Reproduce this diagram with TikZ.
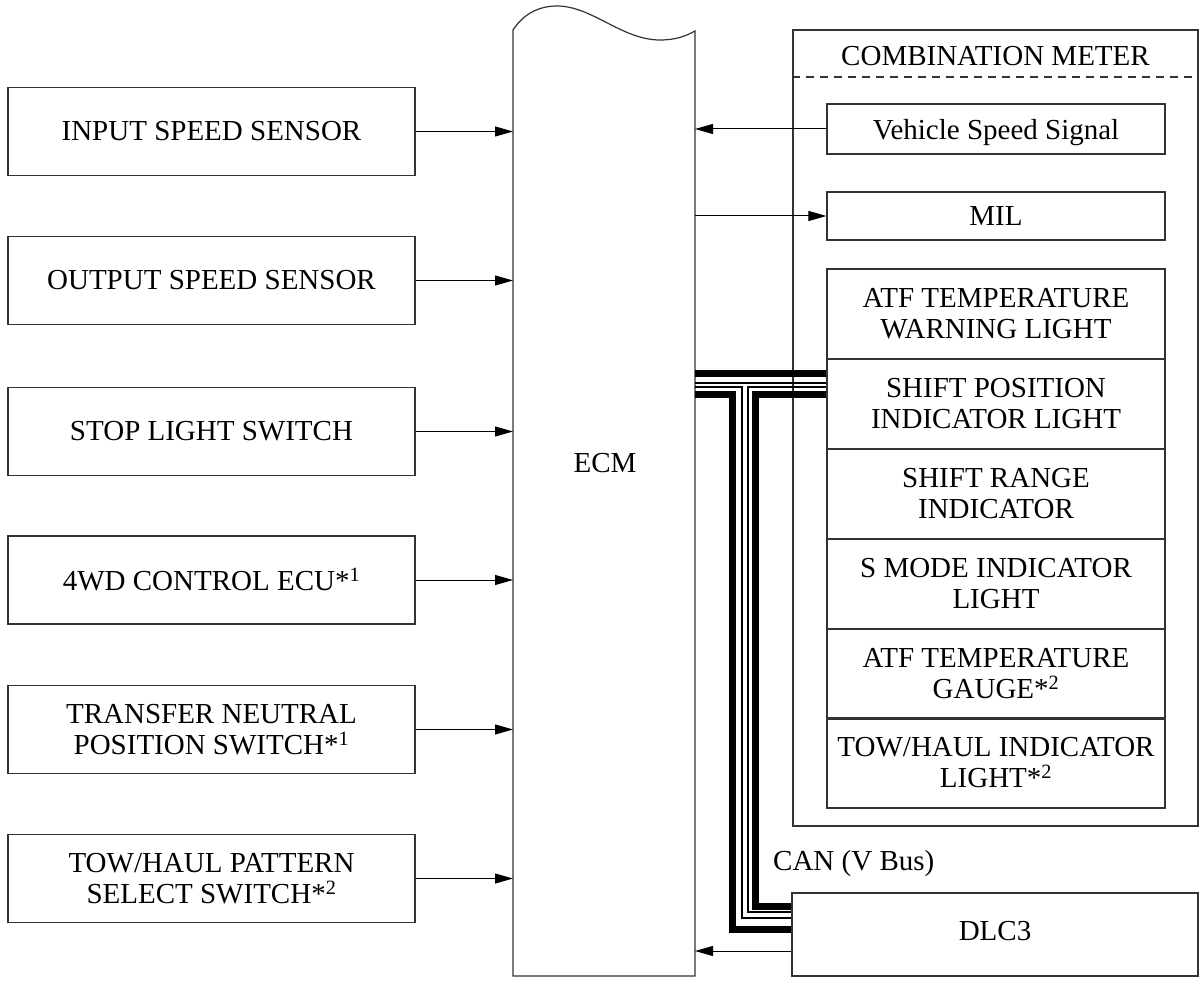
\documentclass[tikz,border=0pt]{standalone}
\usepackage{fontspec}
\setmainfont{Liberation Serif}
\usetikzlibrary{arrows.meta}
\begin{document}
\begin{tikzpicture}[x=1pt,y=-1pt,
  box/.style={draw=black!80, line width=1.2pt, inner sep=0pt, align=center, font=\fontsize{29}{31}\selectfont},
  txt/.style={inner sep=0pt, align=center, font=\fontsize{29}{31}\selectfont},
  arr/.style={line width=1pt, -{Triangle[length=18pt,width=10pt]}},
  busthick/.style={line width=7pt, line join=miter},
  busthin/.style={line width=1.4pt, line join=miter}]
\useasboundingbox[fill=white] (0,0) rectangle (1202,981);

% ECM
\draw[draw=black!80, line width=1.2pt] (513,976) -- (513,30)
  .. controls (524,13) and (540,6) .. (557,6)
  .. controls (592,6) and (622,40) .. (660,40)
  .. controls (676,40) and (686,36) .. (695,31)
  -- (695,976) -- cycle;
\node[txt] (ecm) at (605,463) {ECM};
\coordinate (ecmL) at (513,0);
\coordinate (ecmR) at (695,0);

% left inputs
\node[box, minimum width=407pt, minimum height=88pt] (in1) at (211.5,131.5) {INPUT SPEED SENSOR};
\node[box, minimum width=407pt, minimum height=88pt] (in2) at (211.5,280.5) {OUTPUT SPEED SENSOR};
\node[box, minimum width=407pt, minimum height=88pt] (in3) at (211.5,431.5) {STOP LIGHT SWITCH};
\node[box, minimum width=407pt, minimum height=88pt] (in4) at (211.5,580) {4WD CONTROL ECU*\textsuperscript{1}};
\node[box, minimum width=407pt, minimum height=88pt] (in5) at (211.5,729.5) {TRANSFER NEUTRAL\\POSITION SWITCH*\textsuperscript{1}};
\node[box, minimum width=407pt, minimum height=88pt] (in6) at (211.5,878.5) {TOW/HAUL PATTERN\\SELECT SWITCH*\textsuperscript{2}};
\foreach \i in {1,...,6} {\draw[arr] (in\i.east) -- (in\i.east -| ecmL);}

% combination meter
\node[box, minimum width=405pt, minimum height=796pt] (meter) at (995.5,428) {};
\coordinate (dashy) at (0,77);
\draw[black!80, line width=1.2pt, dash pattern=on 8pt off 6pt] (meter.west |- dashy) -- (meter.east |- dashy);
\node[txt] (mtitle) at (995.5,56) {COMBINATION METER};

\node[box, minimum width=338pt, minimum height=50pt] (vss) at (996,129) {};
\node[txt, anchor=base] (vsst) at (996,139.5) {Vehicle Speed Signal};
\node[box, minimum width=338pt, minimum height=48pt] (mil) at (996,216) {};
\node[txt, anchor=base] (milt) at (996,226) {MIL};

\node[box, minimum width=338pt, minimum height=90pt] (r1) at (996,314) {ATF TEMPERATURE\\WARNING LIGHT};
\node[box, minimum width=338pt, minimum height=90pt] (r2) at (996,404) {SHIFT POSITION\\INDICATOR LIGHT};
\node[box, minimum width=338pt, minimum height=90pt] (r3) at (996,494) {SHIFT RANGE\\INDICATOR};
\node[box, minimum width=338pt, minimum height=90pt] (r4) at (996,584) {S MODE INDICATOR\\LIGHT};
\node[box, minimum width=338pt, minimum height=90pt] (r5) at (996,674) {ATF TEMPERATURE\\GAUGE*\textsuperscript{2}};
\node[box, minimum width=338pt, minimum height=90pt] (r6) at (996,763) {TOW/HAUL INDICATOR\\LIGHT*\textsuperscript{2}};

\draw[arr] (vss.west) -- (vss.west -| ecmR);
\draw[arr] (mil.west -| ecmR) -- (mil.west);

% DLC3
\node[box, minimum width=406pt, minimum height=83pt] (dlc) at (995,934.5) {};
\node[txt, anchor=base] (dlct) at (995,940) {DLC3};
\coordinate (arry) at (0,951);
\draw[arr] (dlc.west |- arry) -- (ecmR |- arry);

\node[txt, anchor=base west] (can) at (773,870) {CAN (V Bus)};

% CAN bus
\coordinate (bA) at (0,373.5);
\coordinate (bB) at (0,383);
\coordinate (bC) at (0,387);
\coordinate (bD) at (0,395);
\draw[busthick] (ecmR |- bA) -- (r2.west |- bA);
\draw[busthin] (ecmR |- bB) -- (r2.west |- bB);
\draw[busthin] (ecmR |- bC) -- (742,387) -- (742,918) -- (dlc.west |- 0,918);
\draw[busthick] (ecmR |- bD) -- (732,395) -- (732,929.5) -- (dlc.west |- 0,929.5);
\draw[busthin] (r2.west |- bC) -- (748,387) -- (748,912) -- (dlc.west |- 0,912);
\draw[busthick] (r2.west |- bD) -- (755.5,395) -- (755.5,906) -- (dlc.west |- 0,906);
\end{tikzpicture}
\end{document}
